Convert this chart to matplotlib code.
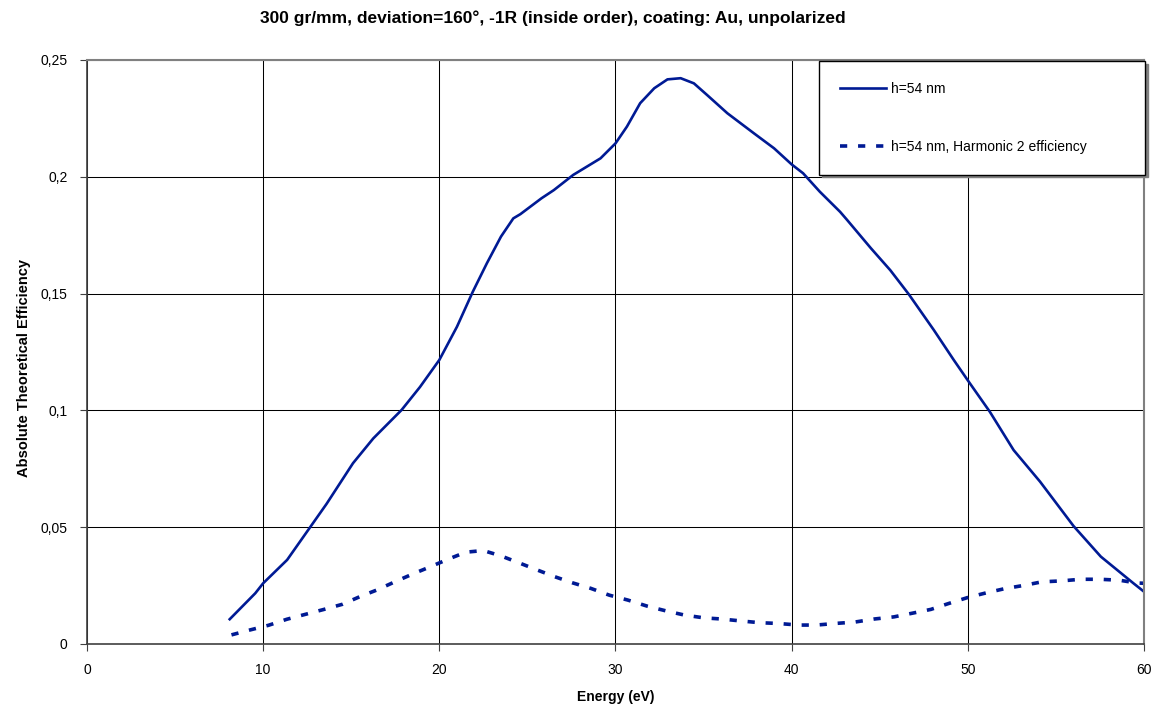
import numpy as np
import matplotlib
matplotlib.use('Agg')
import matplotlib.pyplot as plt

# ============================================
# region 1. Data
energy_main = [8.1, 9.55, 10.0, 11.36, 12.76, 13.6, 15.1, 16.25, 17.86, 18.9, 20.0,
               21.0, 21.9, 22.7, 23.5, 24.2, 24.6, 25.8, 26.5, 27.6, 29.15, 30.0,
               30.65, 31.4, 32.2, 32.95, 33.7, 34.45, 35.2, 36.35, 37.86, 39.0,
               40.0, 40.65, 41.6, 42.75, 43.15, 44.5, 45.6, 46.65, 48.07, 49.2,
               50.05, 51.25, 52.6, 54.1, 56.0, 57.55, 59.4, 60.0]
eff_main = [0.0106, 0.0217, 0.026, 0.036, 0.051, 0.060, 0.0774, 0.088, 0.1002, 0.110,
            0.1216, 0.1358, 0.1508, 0.163, 0.1744, 0.1822, 0.184, 0.1908, 0.1943,
            0.2008, 0.2079, 0.2143, 0.2215, 0.2315, 0.2379, 0.2417, 0.2422, 0.240,
            0.235, 0.2272, 0.2186, 0.2122, 0.2053, 0.2015, 0.1936, 0.185, 0.1815,
            0.1694, 0.160, 0.1497, 0.1344, 0.1216, 0.1123, 0.0994, 0.083, 0.0695,
            0.0505, 0.0374, 0.026, 0.0224]

energy_harm = [8.2, 9.25, 10.3, 11.35, 12.4, 13.45, 14.5, 15.5, 16.45, 17.5, 18.5,
               19.5, 20.5, 21.5, 22.5, 23.5, 24.5, 25.55, 26.55, 27.55, 28.6,
               29.65, 30.7, 31.8, 32.85, 33.9, 35.0, 36.0, 37.07, 38.2, 39.2, 40.4,
               41.4, 42.5, 43.6, 44.7, 45.8, 46.8, 47.9, 48.9, 50.0, 51.05, 52.1,
               53.2, 54.2, 55.3, 56.4, 57.5, 58.6, 59.6, 60.0]
eff_harm = [0.0039, 0.006, 0.008, 0.0106, 0.0127, 0.0148, 0.017, 0.0203, 0.0231,
            0.0267, 0.030, 0.0331, 0.0363, 0.0393, 0.040, 0.0377, 0.0348, 0.0317,
            0.0288, 0.0262, 0.0238, 0.0209, 0.0188, 0.0162, 0.0142, 0.0124, 0.0112,
            0.0107, 0.0099, 0.0091, 0.0088, 0.0081, 0.0081, 0.0088, 0.0094, 0.0107,
            0.0116, 0.0131, 0.0148, 0.0173, 0.0199, 0.0219, 0.0237, 0.0251, 0.0266,
            0.027, 0.0277, 0.0277, 0.0273, 0.0261, 0.026]

x_ticks = [0, 10, 20, 30, 40, 50, 60]
y_ticks = [0, 0.05, 0.1, 0.15, 0.2, 0.25]
y_tick_labels = ['0', '0,05', '0,1', '0,15', '0,2', '0,25']
# endregion

# ============================================
# region 2. Plot
plt.rcParams['font.family'] = ['Liberation Sans', 'DejaVu Sans']
line_color = '#001A94'

fig = plt.figure(figsize=(11.51, 7.09), dpi=100)
ax = fig.add_axes([0.0756, 0.0917, 0.9183, 0.8237])

ax.plot(energy_main, eff_main, color=line_color, linewidth=1.9, label='h=54 nm')
ax.plot(energy_harm, eff_harm, color=line_color, linewidth=2.6, dashes=(2, 3),
        label='h=54 nm, Harmonic 2 efficiency')

ax.set_xlim(0, 60)
ax.set_ylim(0, 0.25)
ax.set_xticks(x_ticks)
ax.set_yticks(y_ticks)
ax.set_yticklabels(y_tick_labels)
ax.tick_params(labelsize=10, direction='out', length=5, width=0.8, color='#404040')
ax.tick_params(axis='x', pad=9)
ax.tick_params(axis='y', pad=9)
ax.grid(True, color='black', linewidth=0.75)
ax.set_axisbelow(True)

for side in ['top', 'right']:
    ax.spines[side].set_color('#808080')
    ax.spines[side].set_linewidth(1.5)
for side in ['left', 'bottom']:
    ax.spines[side].set_color('#404040')
    ax.spines[side].set_linewidth(1.2)

ax.set_xlabel('Energy (eV)', fontsize=10, fontweight='bold', labelpad=9)
ax.set_ylabel('Absolute Theoretical Efficiency', fontsize=10.5, fontweight='bold')
ax.yaxis.set_label_coords(-0.053, 0.4726)
fig.text(0.4805, 0.974, '300 gr/mm, deviation=160°, -1R (inside order), coating: Au, unpolarized',
         ha='center', va='center', fontsize=12.5, fontweight='bold')

leg = ax.legend(loc='upper left', bbox_to_anchor=(819 / 1151, 1 - 176 / 709, 326 / 1151, 115 / 709),
                bbox_transform=fig.transFigure, mode='expand', fontsize=10, borderaxespad=0,
                handlelength=3.3, handletextpad=0.36, labelspacing=3.17, borderpad=1.5,
                fancybox=False, framealpha=1, edgecolor='black',
                shadow={'color': '#808080', 'alpha': 1})
leg.get_frame().set_linewidth(1.0)

plt.savefig('out.png', dpi=100)
# endregion
